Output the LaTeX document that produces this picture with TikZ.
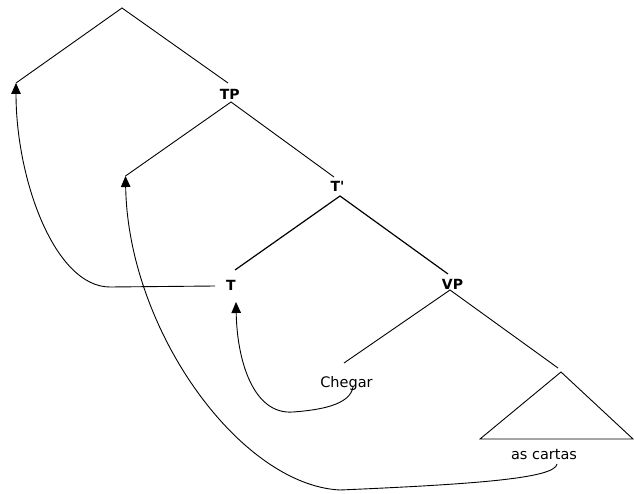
\documentclass[tikz,border=0pt]{standalone}
\usepackage{fontspec}
\setmainfont{DejaVu Sans}[Ligatures=TeXOff]
\usetikzlibrary{arrows.meta}
\tikzset{
  lbl/.style={inner sep=0pt, anchor=base, font=\fontsize{14}{16}\selectfont\bfseries},
  word/.style={inner sep=0pt, anchor=base, font=\fontsize{14.5}{17}\selectfont},
  branch/.style={line width=0.9pt},
  move/.style={line width=0.9pt, -{Triangle[width=9.5pt,length=11pt]}}
}
\begin{document}
\begin{tikzpicture}[x=1pt,y=-1pt]
\useasboundingbox (0,0) rectangle (634,494);
% labels
\node[lbl] (TP) at (229.7,100) {TP};
\node[lbl] (Tbar) at (337.5,191.5) {T'};
\node[lbl] (T) at (231,290) {T};
\node[lbl] (VP) at (452.5,289.3) {VP};
\node[word] (chegar) at (346.5,387.3) {Chegar};
\node[word] (cartas) at (544,459.3) {as cartas};
% tree points
\coordinate (root) at (122,8);
\coordinate (spec1) at (16,83);
\coordinate (TPin) at (228,83);
\coordinate (TPout) at (231,102);
\coordinate (spec2) at (125.5,176);
\coordinate (Tbarin) at (334,177);
\coordinate (Tbarout) at (340,196);
\coordinate (Tin) at (235,270);
\coordinate (VPin) at (448,274);
\coordinate (VPout) at (450,290);
\coordinate (Vin) at (344,363);
\coordinate (DPin) at (558,368);
\coordinate (triA) at (561,372);
\coordinate (triL) at (480,439);
\coordinate (triR) at (633,439);
% branches
\draw[branch] (spec1) -- (root) -- (TPin);
\draw[branch] (spec2) -- (TPout) -- (Tbarin);
\draw[branch, line width=1.2pt] (Tin) -- (Tbarout) -- (VPin);
\draw[branch] (Vin) -- (VPout) -- (DPin);
\draw[branch] (triA) -- (triL) -- (triR) -- cycle;
% movement arrows
\coordinate (Tleft) at (215,286);
\coordinate (Tbend) at (110,287);
\draw[move] (Tleft) -- (Tbend) .. controls (55,287) and (16,180) .. (spec1);
\coordinate (chegarbot) at (353,387);
\coordinate (chegarlow) at (293,412);
\coordinate (Tunder) at (236,302);
\draw[move] (chegarbot) .. controls (350,405) and (320,410) .. (chegarlow)
  .. controls (253,415) and (237,360) .. (Tunder);
\coordinate (cartasbot) at (557,464);
\coordinate (cartaslow) at (340,490);
\draw[move] (cartasbot) .. controls (555,478) and (480,484) .. (cartaslow)
  .. controls (240,485) and (128,330) .. (spec2);
\end{tikzpicture}
\end{document}
